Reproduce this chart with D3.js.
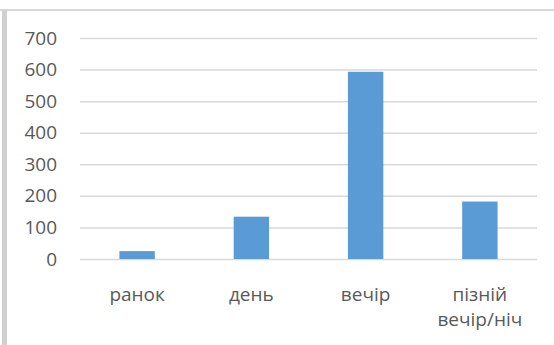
<!DOCTYPE html>
<html>
<head>
<meta charset="utf-8">
<script src="https://cdn.jsdelivr.net/npm/d3@7"></script>
<style>
  html, body { margin: 0; padding: 0; background: #fff; }
  svg { display: block; }
  text { font-family: "Open Sans", "Noto Sans", sans-serif; fill: #595959; }
</style>
</head>
<body>
<svg id="chart" width="554" height="345"></svg>
<script>
// Time-of-day categories and counts
const categories = ["ранок", "день", "вечір", "пізній вечір/ніч"];
const values = [25, 134, 593, 182];
const yTicks = [0, 100, 200, 300, 400, 500, 600, 700];

const svg = d3.select("#chart");
const W = 554, H = 345;
const margin = { left: 80, right: 17, top: 38, bottom: 86 };

// Frame of the chart area
svg.append("rect").attr("x", 0).attr("y", 9).attr("width", W).attr("height", 2).attr("fill", "#d9d9d9");
svg.append("rect").attr("x", 2).attr("y", 10).attr("width", 5).attr("height", H - 10).attr("fill", "#d0d0d0");

const x = d3.scaleBand()
  .domain(categories)
  .range([margin.left, W - margin.right])
  .paddingInner(0.69)
  .paddingOuter(0.345);

const y = d3.scaleLinear()
  .domain([0, 700])
  .range([H - margin.bottom, margin.top]);

// Horizontal gridlines with value labels
const yAxis = d3.axisLeft(y)
  .tickValues(yTicks)
  .tickSize(-(W - margin.left - margin.right))
  .tickPadding(23);

const gy = svg.append("g")
  .attr("transform", `translate(${margin.left},0)`)
  .call(yAxis);
gy.select(".domain").remove();
gy.selectAll(".tick line").attr("stroke", "#d9d9d9").attr("stroke-width", 1.5);
gy.selectAll(".tick text")
  .attr("font-size", 19)
  .attr("fill", "#595959")
  .style("font-family", "'Open Sans', sans-serif");

// Bars
svg.append("g").selectAll("rect")
  .data(categories)
  .join("rect")
  .attr("x", d => x(d))
  .attr("width", x.bandwidth())
  .attr("y", (d, i) => y(values[i]))
  .attr("height", (d, i) => y(0) - y(values[i]))
  .attr("fill", "#5b9bd5");

// Category labels, wrapped onto two lines where needed
const labelLines = {
  "ранок": ["ранок"],
  "день": ["день"],
  "вечір": ["вечір"],
  "пізній вечір/ніч": ["пізній", "вечір/ніч"]
};
const xl = svg.append("g");
categories.forEach(c => {
  const t = xl.append("text")
    .attr("x", x(c) + x.bandwidth() / 2)
    .attr("y", 301)
    .attr("text-anchor", "middle")
    .attr("font-size", 19);
  labelLines[c].forEach((line, i) => {
    t.append("tspan")
      .attr("x", x(c) + x.bandwidth() / 2)
      .attr("dy", i === 0 ? 0 : 25)
      .text(line);
  });
});
</script>
</body>
</html>
